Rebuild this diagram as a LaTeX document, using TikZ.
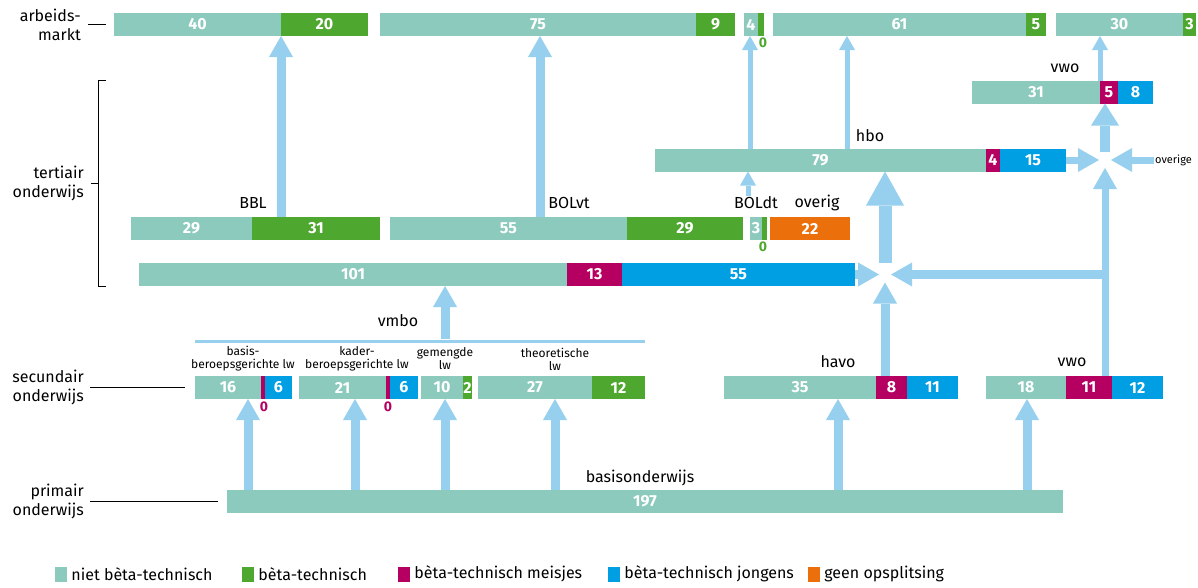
\documentclass[tikz,border=0pt]{standalone}
\usepackage{fontspec}
\setmainfont{Fira Sans}
\usetikzlibrary{arrows.meta, calc, positioning}

\definecolor{niet}{RGB}{139,202,189}
\definecolor{beta}{RGB}{78,167,46}
\definecolor{meisjes}{RGB}{181,0,98}
\definecolor{jongens}{RGB}{0,159,227}
\definecolor{geen}{RGB}{235,111,10}
\definecolor{stroom}{RGB}{150,208,238}

% one coloured piece of a bar: name, colour, left, right, centre y, value
\newcommand{\segm}[6]{%
  \node[seg, fill=#2, minimum width={(#4-#3)*1pt}] (#1) at ({(#3+#4)/2},#5) {#6};}

\begin{document}
\begin{tikzpicture}[
      x=1pt, y=-1pt,
      seg/.style={inner sep=0pt, outer sep=0pt, minimum height=23pt, text=white,
                  font=\fontsize{16}{17}\selectfont\bfseries},
      zero/.style={inner sep=0pt, font=\fontsize{14}{14}\selectfont\bfseries},
      lbl/.style={inner sep=1pt, font=\fontsize{16}{19}\selectfont},
      side/.style={inner sep=0pt, align=right, anchor=east, font=\fontsize{16}{19}\selectfont},
      small/.style={inner sep=1pt, align=center, font=\fontsize{12}{13}\selectfont},
      rule/.style={draw=black, line width=1pt},
      key/.style={inner sep=0pt, minimum width=12pt, minimum height=15pt},
      legend/.style={inner sep=0pt, font=\fontsize{16}{19}\selectfont},
      flow/.style={draw=stroom, line width=9pt, -{Triangle[width=24pt,length=21pt,line width=0pt]}},
      thinflow/.style={draw=stroom, line width=5pt, -{Triangle[width=16pt,length=14pt,line width=0pt]}},
      midflow/.style={draw=stroom, line width=10pt, -{Triangle[width=28pt,length=22pt,line width=0pt]}},
      bigflow/.style={draw=stroom, line width=13pt, -{Triangle[width=38pt,length=34pt,line width=0pt]}}
    ]
    \useasboundingbox (0,0) rectangle (1198,587);

    % arbeidsmarkt
    \segm{amA}{niet}{114}{281}{24.5}{40}
    \segm{amAb}{beta}{281}{368}{24.5}{20}
    \segm{amB}{niet}{380}{696}{24.5}{75}
    \segm{amBb}{beta}{696}{735}{24.5}{9}
    \segm{amC}{niet}{744}{758}{24.5}{4}
    \segm{amCb}{beta}{758}{764}{24.5}{}
    \segm{amD}{niet}{773}{1026}{24.5}{61}
    \segm{amDb}{beta}{1026}{1046}{24.5}{5}
    \segm{amE}{niet}{1056}{1183}{24.5}{30}
    \segm{amEb}{beta}{1183}{1196}{24.5}{3}
    \node[zero, text=beta] (amCz) at (763,43) {0};

    % tertiair: vwo, hbo
    \segm{vtA}{niet}{972}{1100}{92}{31}
    \segm{vtM}{meisjes}{1100}{1118}{92}{5}
    \segm{vtJ}{jongens}{1118}{1153}{92}{8}
    \node[lbl] (vtlbl) at (1065,68) {vwo};

    \segm{hbA}{niet}{655}{986}{160}{79}
    \segm{hbM}{meisjes}{986}{1000}{160}{4}
    \segm{hbJ}{jongens}{1000}{1066}{160}{15}
    \node[lbl] (hblbl) at (870,136) {hbo};

    % tertiair: mbo
    \segm{bblA}{niet}{131}{252}{228.5}{29}
    \segm{bblB}{beta}{252}{380}{228.5}{31}
    \segm{bolvtA}{niet}{390}{627}{228.5}{55}
    \segm{bolvtB}{beta}{627}{743}{228.5}{29}
    \segm{boldtA}{niet}{750}{762}{228.5}{3}
    \segm{boldtB}{beta}{762}{767}{228.5}{}
    \segm{ovA}{geen}{770}{850}{228.5}{22}
    \node[zero, text=beta] (boldtz) at (763,247) {0};
    \node[lbl] (bbllbl) at (253,203) {BBL};
    \node[lbl] (bolvtlbl) at (569,203) {BOLvt};
    \node[lbl] (boldtlbl) at (756,203) {BOLdt};
    \node[lbl] (ovlbl) at (817,203) {overig};

    \segm{totA}{niet}{139}{567}{274.5}{101}
    \segm{totM}{meisjes}{567}{622}{274.5}{13}
    \segm{totJ}{jongens}{622}{855}{274.5}{55}

    % secundair
    \node[fill=stroom, inner sep=0pt, minimum width=450pt, minimum height=3pt] (vmbo) at (420,341) {};
    \node[lbl] (vmbolbl) at (398,321) {vmbo};
    \node[small] (bblbl) at (243,359) {basis-\\beroepsgerichte lw};
    \node[small] (kblbl) at (357,359) {kader-\\beroepsgerichte lw};
    \node[small] (gllbl) at (445,359) {gemengde\\lw};
    \node[small] (tllbl) at (555,359) {theoretische\\lw};

    \segm{bbA}{niet}{195}{261}{387.5}{16}
    \segm{bbM}{meisjes}{261}{265}{387.5}{}
    \segm{bbJ}{jongens}{265}{292}{387.5}{6}
    \segm{kbA}{niet}{299}{386}{387.5}{21}
    \segm{kbM}{meisjes}{386}{390}{387.5}{}
    \segm{kbJ}{jongens}{390}{418}{387.5}{6}
    \segm{glA}{niet}{421}{463}{387.5}{10}
    \segm{glB}{beta}{463}{472}{387.5}{2}
    \segm{tlA}{niet}{478}{592}{387.5}{27}
    \segm{tlB}{beta}{592}{645}{387.5}{12}
    \node[zero, text=meisjes] (bbz) at (264,407) {0};
    \node[zero, text=meisjes] (kbz) at (388,407) {0};

    \segm{hvA}{niet}{724}{876}{387.5}{35}
    \segm{hvM}{meisjes}{876}{907}{387.5}{8}
    \segm{hvJ}{jongens}{907}{958}{387.5}{11}
    \node[lbl] (hvlbl) at (838,362) {havo};
    \segm{vwA}{niet}{986}{1066}{387.5}{18}
    \segm{vwM}{meisjes}{1066}{1112}{387.5}{11}
    \segm{vwJ}{jongens}{1112}{1163}{387.5}{12}
    \node[lbl] (vwlbl) at (1072,362) {vwo};

    % primair
    \segm{basis}{niet}{227}{1063}{501}{197}
    \node[lbl] (basislbl) at (640,478) {basisonderwijs};

    % side labels
    \node[side] (lam) at (81,24.5) {arbeids-\\markt};
    \node[side] (lter) at (84,183) {tertiair\\onderwijs};
    \node[side] (lsec) at (84,387.5) {secundair\\onderwijs};
    \node[side] (lpri) at (84,501) {primair\\onderwijs};
    \draw[rule] ([xshift=7pt]lam.east) -- ([xshift=-8pt]amA.west);
    \draw[rule] ([xshift=22pt]lter.east |- vtA.north) -- ([xshift=14pt]lter.east |- vtA.north)
                -- ([xshift=14pt]lter.east |- totA.south) -- ([xshift=22pt]lter.east |- totA.south);
    \draw[rule] ([xshift=7pt]lter.east) -- ([xshift=14pt]lter.east);
    \draw[rule] ([xshift=6pt]lsec.east) -- ([xshift=-10pt]bbA.west);
    \draw[rule] ([xshift=6pt]lpri.east) -- ([xshift=-9pt]basis.west);

    % flows
    \draw[flow] (bblB.north -| amA.east) -- (amA.south east);
    \draw[flow] ([xshift=150pt]bolvtA.north west) -- ([xshift=160pt]amB.south west);
    \draw[flow] ([xshift=25pt]vmbo.north) -- ([xshift=306pt]totA.south west);

    \draw[flow] ([xshift=21pt]basis.north west) -- ([xshift=53pt]bbA.south west);
    \draw[flow] ([xshift=128pt]basis.north west) -- ([xshift=56pt]kbA.south west);
    \draw[flow] ([xshift=218pt]basis.north west) -- ([xshift=24pt]glA.south west);
    \draw[flow] ([xshift=328pt]basis.north west) -- ([xshift=77pt]tlA.south west);
    \draw[flow] ([xshift=611pt]basis.north west) -- ([xshift=114pt]hvA.south west);
    \draw[flow] ([xshift=800pt]basis.north west) -- ([xshift=41pt]vwA.south west);

    \coordinate (jhbo) at ([xshift=30pt]totJ.east);
    \coordinate (jvwo) at ([xshift=39pt]hbJ.east);
    \draw[flow, shorten >=6pt] (totJ.east) -- (jhbo);
    \draw[flow, shorten >=6pt] (jvwo |- jhbo) -- (jhbo);
    \draw[flow, shorten >=8pt] ([xshift=9pt]hvM.north west) -- (jhbo);
    \draw[bigflow, shorten <=12pt] (jhbo) -- (jhbo |- hbA.south);

    \node[small, anchor=west, font=\fontsize{11}{12}\selectfont] (overige) at (1154,160) {overige};
    \draw[flow, line width=7pt, shorten >=8pt] ([xshift=39pt]vwM.north west) -- (jvwo);
    \draw[flow, line width=7pt, shorten >=6pt] (hbJ.east) -- (jvwo);
    \draw[flow, line width=7pt, shorten >=6pt] (overige.west) -- (jvwo);
    \draw[midflow, shorten <=8pt] (jvwo) -- (jvwo |- vtA.south);

    \draw[thinflow] (vtM.north west) -- (vtM.north west |- amE.south);
    \draw[thinflow] ([xshift=95pt]hbA.north west) -- ([xshift=6pt]amC.south west);
    \draw[thinflow] ([xshift=192pt]hbA.north west) -- ([xshift=74pt]amD.south west);
    \draw[thinflow] ([xshift=-8pt]boldtlbl.north) -- ([xshift=93pt]hbA.south west);

    % legend
    \node[key, fill=niet] (kNiet) at (61,574) {};
    \node[legend, right=4pt of kNiet] (tNiet) {niet bèta-technisch};
    \node[key, fill=beta] (kBeta) at (248,574) {};
    \node[legend, right=4pt of kBeta] (tBeta) {bèta-technisch};
    \node[key, fill=meisjes] (kMeis) at (404,574) {};
    \node[legend, right=4pt of kMeis] (tMeis) {bèta-technisch meisjes};
    \node[key, fill=jongens] (kJong) at (614,574) {};
    \node[legend, right=4pt of kJong] (tJong) {bèta-technisch jongens};
    \node[key, fill=geen] (kGeen) at (814,574) {};
    \node[legend, right=4pt of kGeen] (tGeen) {geen opsplitsing};

\end{tikzpicture}
\end{document}
